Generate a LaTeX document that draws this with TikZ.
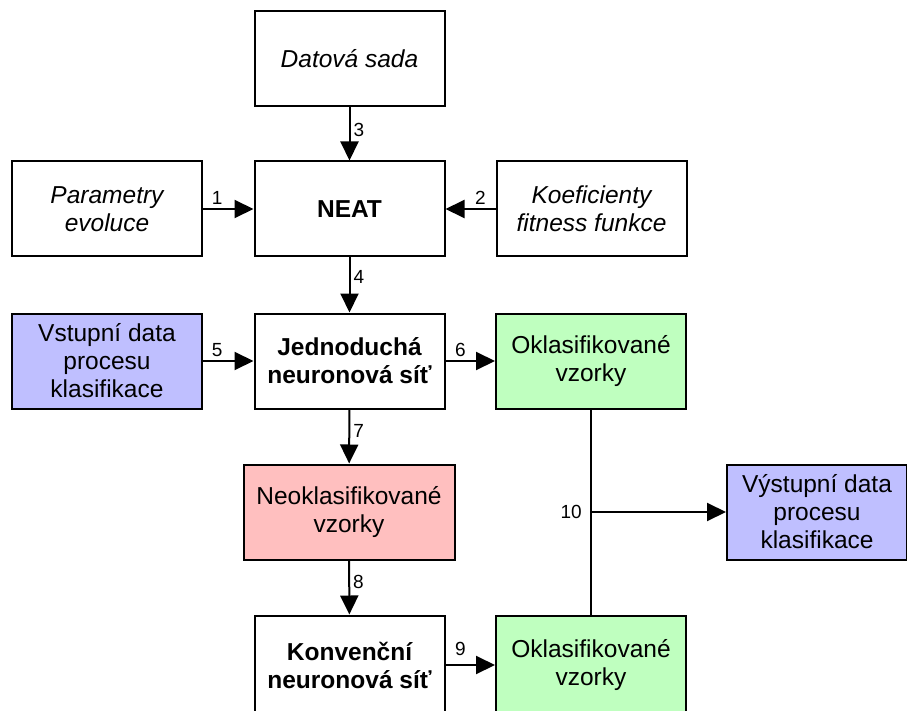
\documentclass[tikz,border=0pt]{standalone}
\usepackage{fontspec}
\setmainfont{Liberation Sans}
\usetikzlibrary{positioning,arrows.meta}
\definecolor{modra}{RGB}{191,191,255}
\definecolor{cervena}{RGB}{255,191,191}
\definecolor{zelena}{RGB}{191,255,191}

\begin{document}
\begin{tikzpicture}[x=1pt, y=-1pt,
    blok/.style={draw, line width=2pt, minimum width=190pt, minimum height=95pt,
        inner sep=0pt, align=center, font=\fontsize{24.5}{28}\selectfont},
    sipka/.style={line width=2pt, -{Triangle[length=19pt,width=18pt]}},
    cislo/.style={font=\fontsize{19}{21}\selectfont, inner sep=3pt}]
\useasboundingbox (0,0) rectangle (907,711);

% Vstupy do NEAT
\node[blok] (data) at (349.5,59) {\itshape Datová sada};
\node[blok] (param) at (107,209) {\itshape Parametry\\\itshape evoluce};
\node[blok] (neat) at (349.5,209) {\bfseries NEAT};
\node[blok] (koef) at (591.5,209) {\itshape Koeficienty\\\itshape fitness funkce};

% Klasifikace
\node[blok, fill=modra] (vstup) at (107,361) {Vstupní data\\procesu\\klasifikace};
\node[blok] (jedno) at (349.5,361) {\bfseries Jednoduchá\\\bfseries neuronová síť};
\node[blok, fill=zelena] (okl1) at (591,361) {Oklasifikované\\vzorky};
\node[blok, fill=cervena, minimum width=211pt] (neokl) at (349,512) {Neoklasifikované\\vzorky};
\node[blok, fill=modra, minimum width=180pt] (vystup) at (817,512) {Výstupní data\\procesu\\klasifikace};
\node[blok, minimum height=99pt] (konv) at (349.5,665) {\bfseries Konvenční\\\bfseries neuronová síť};
\node[blok, fill=zelena, minimum height=99pt] (okl2) at (591,665) {Oklasifikované\\vzorky};

% Sipky
\draw[sipka] (param) -- node[cislo, pos=0.28, above] {1} (neat);
\draw[sipka] (koef) -- node[cislo, pos=0.3, above] {2} (neat);
\draw[sipka] (data) -- node[cislo, pos=0.42, right] {3} (neat);
\draw[sipka] (neat) -- node[cislo, pos=0.35, right] {4} (jedno);
\draw[sipka] (vstup) -- node[cislo, pos=0.28, above] {5} (jedno);
\draw[sipka] (jedno) -- node[cislo, pos=0.3, above] {6} (okl1);
\draw[sipka] (jedno) -- node[cislo, pos=0.4, right] {7} (neokl);
\draw[sipka] (neokl) -- node[cislo, pos=0.4, right] {8} (konv);
\draw[sipka] (konv) -- node[cislo, pos=0.3, above=5pt] {9} (okl2);

% Spojeni vystupu
\coordinate (uzel) at (okl1.south |- vystup.west);
\draw[line width=2pt] (okl1) -- (okl2);
\draw[sipka] (uzel) -- (vystup);
\node[cislo, left=6pt of uzel] (c10) {10};

\end{tikzpicture}
\end{document}
